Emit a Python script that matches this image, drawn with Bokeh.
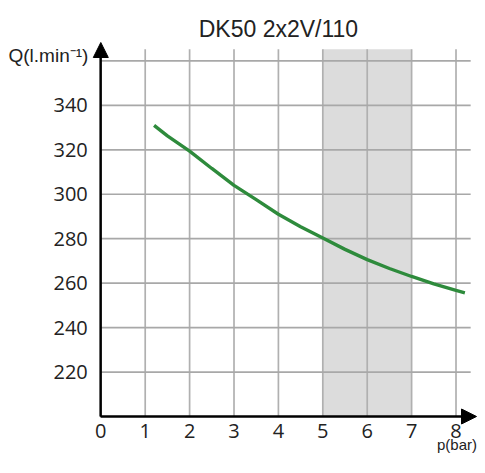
from bokeh.plotting import figure
from bokeh.models import (Range1d, FixedTicker, BoxAnnotation, Arrow, NormalHead,
                          Label, ColumnDataSource, LinearAxis)
from bokeh.embed import file_html
from bokeh.resources import INLINE

# data
pressure = [1.2, 1.5, 2, 2.5, 3, 3.5, 4, 4.5, 5, 5.5, 6, 6.5, 7, 7.5, 8, 8.2]
flow = [331.0, 326.3, 319.4, 311.6, 304.0, 297.6, 291.0, 285.4, 280.3, 275.2,
        270.6, 266.6, 263.0, 259.7, 256.7, 255.6]
x_ticks = [0, 1, 2, 3, 4, 5, 6, 7, 8]
y_ticks = [220, 240, 260, 280, 300, 320, 340]
x_grid = [1, 2, 3, 4, 5, 6, 7, 8]
y_grid = [220, 240, 260, 280, 300, 320, 340, 360]
x_min, x_max = 0, 8.33      # plotting area in data units
y_min, y_max = 200, 365.3
shade_from, shade_to = 5, 7
title_text = "DK50 2x2V/110"
y_label_text = "Q(l.min\u207b\u00b9)"
x_label_text = "p(bar)"

p = figure(width=477, height=457, output_backend="svg", toolbar_location=None,
           x_range=Range1d(-2.259, 8.484), y_range=Range1d(181.55, 387.18),
           x_axis_type=None, y_axis_type=None,
           min_border_left=0, min_border_right=0, min_border_top=0,
           min_border_bottom=0)
p.outline_line_color = None
p.background_fill_color = "white"

# shaded band
p.add_layout(BoxAnnotation(left=shade_from, right=shade_to, bottom=y_min, top=y_max,
                           fill_color="#dcdcdc", fill_alpha=1, line_color=None,
                           level="underlay"))

# grid lines
p.segment(x0=x_grid, x1=x_grid, y0=[y_min] * len(x_grid), y1=[y_max] * len(x_grid),
          line_color="#b0b0b0", line_width=1.7)
p.segment(x0=[x_min] * len(y_grid), x1=[x_max] * len(y_grid), y0=y_grid, y1=y_grid,
          line_color="#a8a8a8", line_width=1.7)

# curve
src = ColumnDataSource(dict(x=pressure, y=flow))
p.line("x", "y", source=src, line_color="#2e8b3c", line_width=3.4)

# axes at fixed locations
xax = LinearAxis(fixed_location=y_min, ticker=FixedTicker(ticks=x_ticks),
                 bounds=(x_min, x_max))
yax = LinearAxis(fixed_location=x_min, ticker=FixedTicker(ticks=y_ticks),
                 bounds=(y_min, y_max))
for ax in (xax, yax):
    ax.axis_line_color = "black"
    ax.axis_line_width = 2
    ax.major_tick_line_color = None
    ax.minor_tick_line_color = None
    ax.major_label_text_font = "Open Sans"
    ax.major_label_text_font_size = "20px"
    ax.major_label_text_color = "#222222"
xax.major_label_standoff = 2
yax.major_label_standoff = 7
p.add_layout(xax, "below")
p.add_layout(yax, "left")

# axis arrows
p.add_layout(Arrow(x_start=x_min, y_start=y_min, x_end=8.462, y_end=y_min, line_width=2,
                   line_color="black",
                   end=NormalHead(size=15, fill_color="black", line_color="black")))
p.add_layout(Arrow(x_start=x_min, y_start=y_min, x_end=x_min, y_end=368.28, line_width=2,
                   line_color="black",
                   end=NormalHead(size=15, fill_color="black", line_color="black")))

# texts
p.add_layout(Label(x=4, y=374.57, text=title_text, text_align="center",
                   text_baseline="alphabetic", text_font="Liberation Sans",
                   text_font_size="23px", text_color="#222222"))
p.add_layout(Label(x=-0.28, y=362.22, text=y_label_text, text_align="right",
                   text_baseline="alphabetic", text_font="Liberation Sans",
                   text_font_size="19px", text_color="#222222"))
p.add_layout(Label(x=8.473, y=187.18, text=x_label_text, text_align="right",
                   text_baseline="alphabetic", text_font="Liberation Sans",
                   text_font_size="15px", text_color="#222222"))

open("out.html", "w").write(file_html(p, INLINE))
